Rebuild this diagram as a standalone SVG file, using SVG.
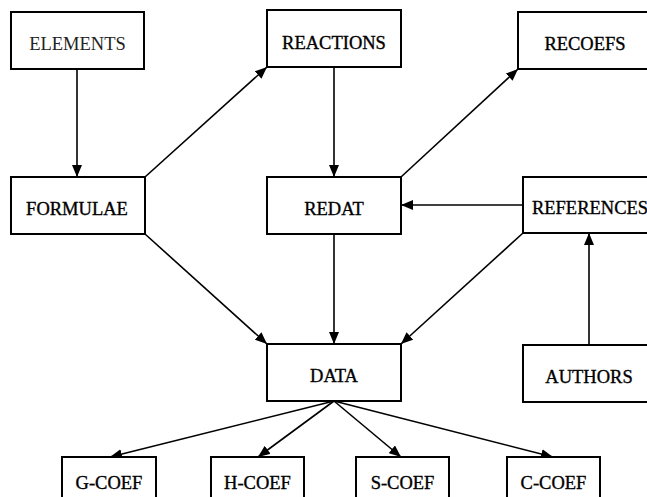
<svg xmlns="http://www.w3.org/2000/svg" width="647" height="497" viewBox="0 0 647 497">
<defs>
<marker id="arr" viewBox="0 0 12 10" refX="12" refY="5" markerWidth="12" markerHeight="10" markerUnits="userSpaceOnUse" orient="auto">
<path d="M0,0 L12,5 L0,10 Z" fill="#000"/>
</marker>
<style>
rect{fill:#fff;stroke:#000;stroke-width:2}
text{font-family:"Liberation Serif","Times New Roman",serif;font-size:18.5px;fill:#000;text-anchor:middle;stroke:#000;stroke-width:0.35}
text.light{fill:#222;stroke:none}
.c line{stroke:#000;stroke-width:1.6;marker-end:url(#arr)}
</style>
</defs>
<g class="c" id="connectors">
<line x1="77" y1="69" x2="77" y2="177"/>
<line x1="145" y1="177" x2="267" y2="67"/>
<line x1="334" y1="67" x2="334" y2="177"/>
<line x1="401" y1="177" x2="518" y2="69"/>
<line x1="523" y1="205" x2="401" y2="205"/>
<line x1="145" y1="234" x2="267" y2="344"/>
<line x1="334" y1="234" x2="334" y2="344"/>
<line x1="523" y1="233" x2="401" y2="344"/>
<line x1="589" y1="345" x2="589" y2="233"/>
<line x1="334" y1="401" x2="110" y2="457"/>
<line x1="334" y1="401" x2="258" y2="457"/>
<line x1="334" y1="401" x2="401" y2="457"/>
<line x1="334" y1="401" x2="553" y2="457"/>
</g>
<g id="elements"><rect x="11" y="12" width="133" height="57"/><text class="light" x="77.5" y="50">ELEMENTS</text></g>
<g id="reactions"><rect x="267" y="10" width="134" height="57"/><text x="334" y="49">REACTIONS</text></g>
<g id="recoefs"><rect x="518" y="12" width="134" height="57"/><text x="585" y="50">RECOEFS</text></g>
<g id="formulae"><rect x="11" y="177" width="134" height="57"/><text x="77" y="215">FORMULAE</text></g>
<g id="redat"><rect x="267" y="177" width="134" height="57"/><text x="334" y="215">REDAT</text></g>
<g id="references"><rect x="523" y="177" width="134" height="56"/><text x="590" y="214">REFERENCES</text></g>
<g id="data"><rect x="267" y="344" width="134" height="57"/><text x="334" y="382">DATA</text></g>
<g id="authors"><rect x="523" y="345" width="134" height="57"/><text x="589" y="383">AUTHORS</text></g>
<g id="g-coef"><rect x="62" y="457" width="94" height="57"/><text x="109" y="489">G-COEF</text></g>
<g id="h-coef"><rect x="211" y="457" width="93" height="57"/><text x="257.5" y="489">H-COEF</text></g>
<g id="s-coef"><rect x="356" y="457" width="93" height="57"/><text x="402.5" y="489">S-COEF</text></g>
<g id="c-coef"><rect x="507" y="457" width="93" height="57"/><text x="553.5" y="489">C-COEF</text></g>
</svg>
